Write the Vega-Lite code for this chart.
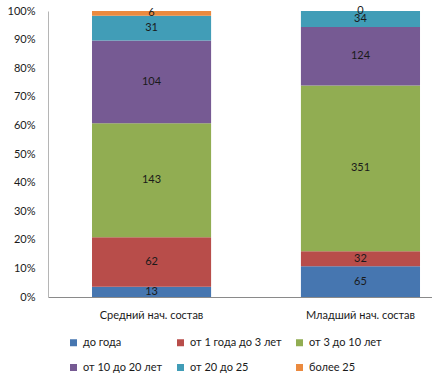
{
  "$schema": "https://vega.github.io/schema/vega-lite/v6.json",
  "autosize": {"type": "none"},
  "width": 384,
  "height": 286,
  "padding": {"left": 48, "top": 11, "right": 0, "bottom": 82},
  "background": "white",
  "config": {
    "font": "Lato",
    "view": {"stroke": null}
  },
  "data": {
    "values": [
      {"cat": "Средний нач. состав", "series": "до года", "order": 1, "value": 13},
      {"cat": "Средний нач. состав", "series": "от 1 года до 3 лет", "order": 2, "value": 62},
      {"cat": "Средний нач. состав", "series": "от 3 до 10 лет", "order": 3, "value": 143},
      {"cat": "Средний нач. состав", "series": "от 10 до 20 лет", "order": 4, "value": 104},
      {"cat": "Средний нач. состав", "series": "от 20 до 25", "order": 5, "value": 31},
      {"cat": "Средний нач. состав", "series": "более 25", "order": 6, "value": 6},
      {"cat": "Младший нач. состав", "series": "до года", "order": 1, "value": 65},
      {"cat": "Младший нач. состав", "series": "от 1 года до 3 лет", "order": 2, "value": 32},
      {"cat": "Младший нач. состав", "series": "от 3 до 10 лет", "order": 3, "value": 351},
      {"cat": "Младший нач. состав", "series": "от 10 до 20 лет", "order": 4, "value": 124},
      {"cat": "Младший нач. состав", "series": "от 20 до 25", "order": 5, "value": 34},
      {"cat": "Младший нач. состав", "series": "более 25", "order": 6, "value": 0}
    ]
  },
  "transform": [
    {"stack": "value", "groupby": ["cat"], "sort": [{"field": "order"}], "as": ["y0", "y1"], "offset": "normalize"},
    {"calculate": "(datum.y0 + datum.y1) / 2", "as": "ym"}
  ],
  "encoding": {
    "x": {
      "field": "cat", "type": "nominal", "sort": ["Средний нач. состав", "Младший нач. состав"],
      "scale": {"paddingInner": 0.43, "paddingOuter": 0.134, "align": 0.786},
      "axis": {
        "title": null, "labelAngle": 0, "labelFontSize": 11, "labelColor": "#1a1a1a",
        "tickSize": 0, "labelPadding": 12, "domainColor": "#8a8a8a", "grid": false
      }
    }
  },
  "layer": [
    {
      "mark": {"type": "bar"},
      "encoding": {
        "y": {
          "field": "y0", "type": "quantitative",
          "scale": {"domain": [0, 1], "nice": false},
          "axis": {
            "title": null, "format": ".0%", "values": [0, 0.1, 0.2, 0.3, 0.4, 0.5, 0.6, 0.7, 0.8, 0.9, 1],
            "labelOverlap": false, "labelFlush": false, "tickCount": 11,
            "labelFontSize": 11, "labelColor": "#1a1a1a", "tickSize": 0, "labelPadding": 13,
            "domainColor": "#b5b5b5", "grid": false
          }
        },
        "y2": {"field": "y1"},
        "color": {
          "field": "series", "type": "nominal",
          "sort": ["до года", "от 1 года до 3 лет", "от 3 до 10 лет", "от 10 до 20 лет", "от 20 до 25", "более 25"],
          "scale": {
            "domain": ["до года", "от 1 года до 3 лет", "от 3 до 10 лет", "от 10 до 20 лет", "от 20 до 25", "более 25"],
            "range": ["#4676B0", "#B84D4A", "#91AD52", "#765A93", "#419DB7", "#EB8A3F"]
          },
          "legend": {
            "title": null, "orient": "none", "direction": "horizontal", "legendX": 20, "legendY": 326, "columns": 3,
            "symbolType": "square", "symbolSize": 49, "symbolStrokeWidth": 0, "symbolOffset": 0,
            "labelFontSize": 11, "labelColor": "#1a1a1a", "labelOffset": 4,
            "rowPadding": 13, "columnPadding": 12, "padding": 0
          }
        },
        "order": {"field": "order"}
      }
    },
    {
      "mark": {"type": "text", "fontSize": 11, "color": "#1a1a1a", "baseline": "middle"},
      "encoding": {
        "y": {
          "field": "ym", "type": "quantitative",
          "axis": {
            "title": null, "format": ".0%", "values": [0, 0.1, 0.2, 0.3, 0.4, 0.5, 0.6, 0.7, 0.8, 0.9, 1],
            "labelOverlap": false, "labelFlush": false, "tickCount": 11,
            "labelFontSize": 11, "labelColor": "#1a1a1a", "tickSize": 0, "labelPadding": 13,
            "domainColor": "#b5b5b5", "grid": false
          }
        },
        "text": {"field": "value", "type": "quantitative"}
      }
    }
  ]
}
